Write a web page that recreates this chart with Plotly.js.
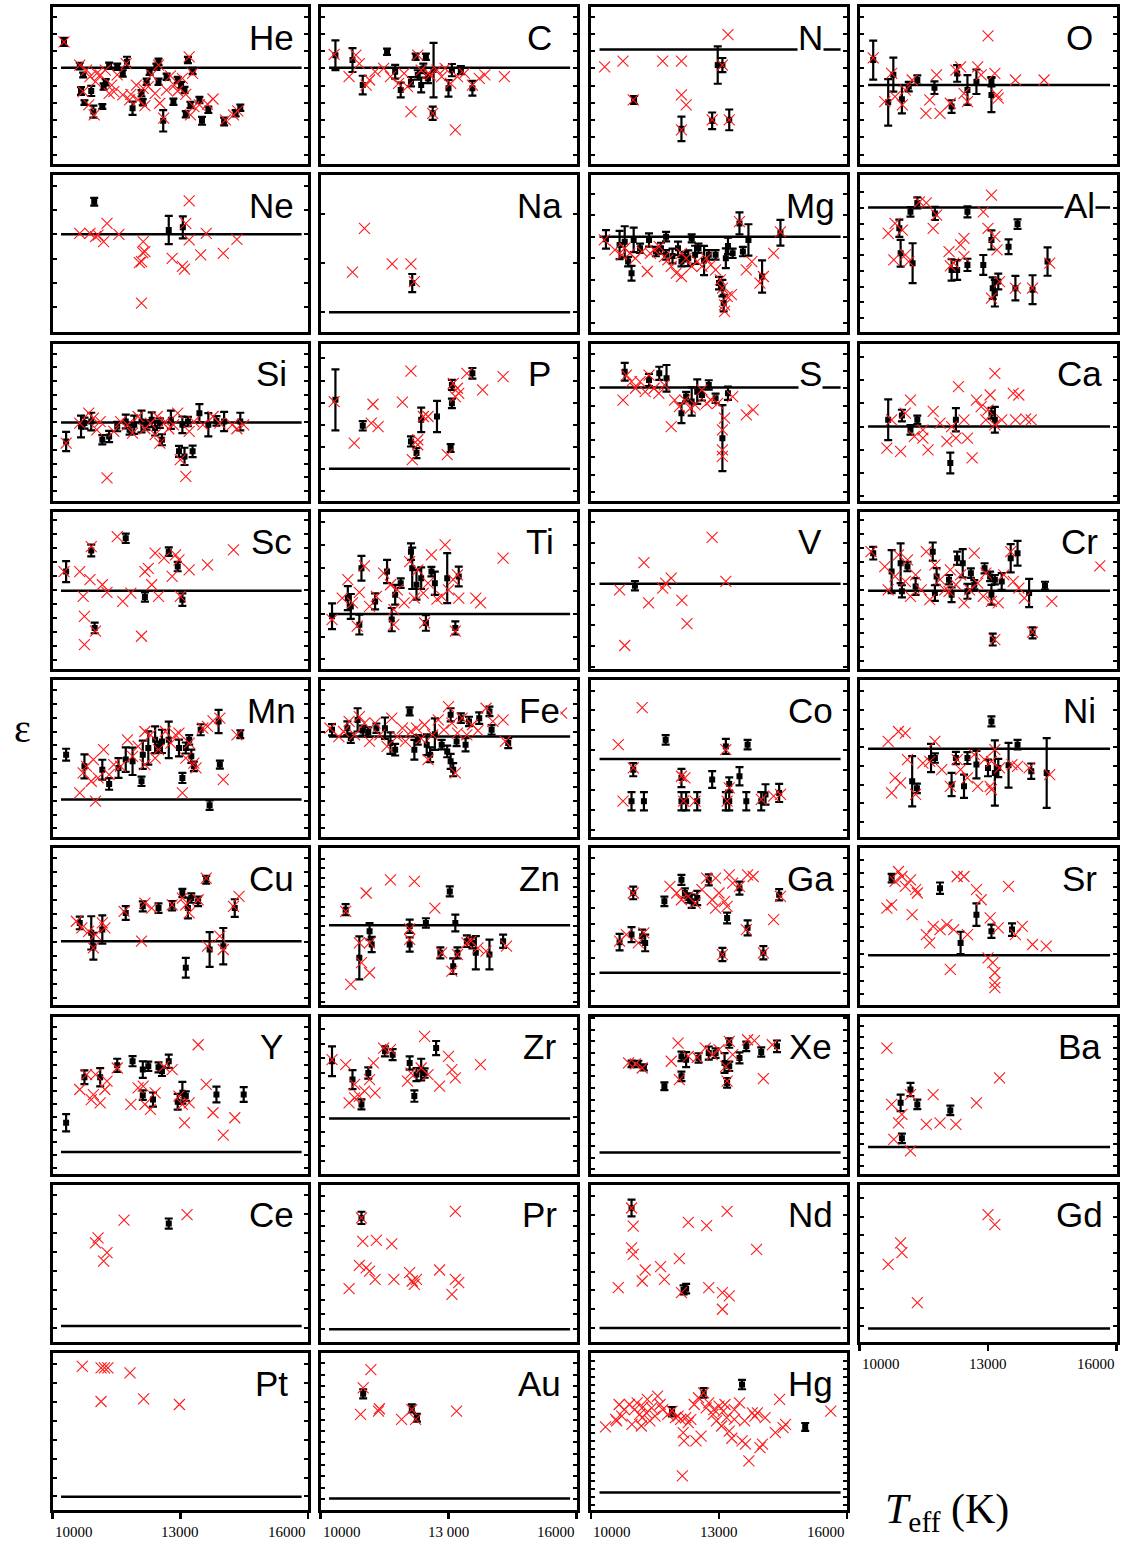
<!DOCTYPE html>
<html><head><meta charset="utf-8">
<script src="https://cdn.plot.ly/plotly-3.0.1.min.js"></script>
<style>html,body{margin:0;padding:0;background:#fff}#chart{width:1123px;height:1541px}</style>
</head><body><div id="chart"></div>
<script>
// ---------------- DATA (Teff in K, abundance in panel units 0-100) ----------------
const elements = ['He','C','N','O','Ne','Na','Mg','Al','Si','P','S','Ca','Sc','Ti','V','Cr','Mn','Fe','Co','Ni','Cu','Zn','Ga','Sr','Y','Zr','Xe','Ba','Ce','Pr','Nd','Gd','Pt','Au','Hg'];
const solar = [61.3,61.3,72.9,50.3,62.4,12.7,60.9,79.5,49.7,20.3,71.9,47.1,49.7,34.9,54.1,49.7,23.9,64,49.7,56.2,40.8,50.9,20.7,31.9,13.7,35.1,13.3,16.9,10.1,8,8.7,8.5,8.5,7.4,11.2];
const solarTeff = [10200, 15850];
const xTickVals = [10000, 13000, 16000];
const xTickText = ['10000', '13000', '16000'];
const xTickTextAu = ['10000', '13 000', '16000'];

const He_red = [[10270,77.8],[10640,63],[10800,59.8],[10880,55.6],[11010,52.4],[11120,56.7],[11240,59.8],[11330,45],[11440,46.1],[11520,56.7],[11650,44],[11810,40.8],[11970,50.3],[12130,48.2],[12250,49.3],[12330,56.7],[12410,45],[12520,38.7],[12610,29.2],[12680,47.1],[12770,56.2],[12860,50.3],[12940,46.5],[13050,54.5],[13130,44.4],[13240,31.3],[13320,36.6],[13450,37.6],[13640,38.1],[13770,41.4],[14060,28.1],[14250,31.3],[14350,33.8],[10720,46.1],[10850,37.6],[10980,31.3],[11840,44.4],[12170,37.2],[13210,68.3],[13290,57.7],[11730,64],[12490,63],[11040,57.7],[11390,50.3],[12010,40.8]];
const He_blk = [[10270,77.8,2.5],[10640,62.4,2.1],[10720,56.7,1.5],[10670,46.5,2.5],[10750,39.1,1.5],[10910,46.5,3.2],[10960,33.4,3.8],[11170,36.6,1.5],[11200,49.3,2],[11250,52,2],[11330,62.6,2],[11520,61.9,2],[11650,57.7,2],[11750,65.1,3.2],[11880,35.5,4.2],[12090,45,2],[12120,39.3,2],[12210,52.4,2],[12280,58.8,2],[12440,61.9,2],[12490,65.1,2],[12490,52.4,2],[12600,27.5,6.8],[12680,55.6,2],[12840,39.7,2],[12940,53.5,2],[13020,50.3,2],[13100,47.1,2],[13130,31.7,2],[13180,66.2,2],[13240,37.6,2],[13290,59.2,2],[13450,40.8,2],[13510,27.5,2.5],[13660,34.5,2],[14030,27.1,2.5],[14300,32.3,2],[14410,35.9,2]];
const C_red = [[10320,69.8],[10670,55.6],[10830,69.3],[10910,64],[11150,53.5],[11280,58.8],[11480,60.9],[11640,55.6],[11830,51.4],[11960,57.7],[12040,49.3],[12120,33.4],[12280,69.3],[12360,59.8],[12570,56.7],[12630,32.3],[12730,59.8],[12840,55.6],[12920,60.9],[13050,51.4],[13160,21.8],[13210,55.6],[13370,57.7],[13560,50.3],[13720,54.5],[13850,56.7],[14310,55.6],[11070,50.3],[12520,57.7]];
const C_blk = [[10350,69.3,9.5],[10750,66.2,7.6],[10990,50.3,5.9],[11560,71.5,2],[11750,58.8,4.4],[11880,47.1,4.7],[12120,52.4,3],[12230,68.3,2],[12280,56.7,3],[12360,50.3,4.7],[12410,60.9,3],[12470,68.3,2],[12520,54.5,3],[12650,59.8,17.4],[12630,32.3,4.2],[13000,48.2,5.3],[13080,59.8,3.9],[13290,59.8,2.5],[13560,48.2,4.7]];
const N_red = [[10320,61.9],[10750,65.5],[10990,40.8],[11680,65.5],[12120,65.5],[12120,44],[12230,37.6],[12120,21.8],[12840,28.1],[13080,63],[13210,82.4],[13240,28.1]];
const N_blk = [[11010,40.8,2.5],[12120,22.4,7.8],[12840,27.5,5.3],[13240,28.1,6.6],[12970,63,11.9],[13080,63,4.5]];
const O_red = [[10320,67.6],[10590,39.7],[10750,57.7],[10830,42.9],[11070,47.1],[11230,53.5],[11550,32.3],[11640,40.8],[11800,56.7],[11880,32.3],[12120,38.7],[12250,59.8],[12360,61.9],[12440,45],[12520,39.7],[12760,61.9],[12840,56.7],[13000,81.6],[13160,57.7],[13210,44],[13240,41.9],[13640,53.5],[14310,53.5],[11000,37.6]];
const O_blk = [[10320,66.2,12.4],[10670,39.3,14.8],[10790,56.9,10.8],[10990,41.2,9],[11150,49.3,3],[11350,53.5,3],[11750,48.6,4],[12150,36.6,4],[12280,57.7,5.3],[12520,47.1,9.5],[12730,52.4,7.8],[13080,44,10.9],[13080,52.4,3]];
const Ne_red = [[10640,63],[10880,63],[11070,61.9],[11200,57.7],[11280,69.3],[11560,62.4],[12130,57.7],[12170,51.4],[12090,45],[12120,50.7],[12090,18.6],[12810,47.1],[13050,41.9],[13100,40.2],[13210,83.7],[13210,58.8],[13480,49.3],[13610,63],[14010,50.3],[14330,59.2],[11010,60.9],[13130,69.3],[12040,44.4]];
const Ne_blk = [[10980,83.1,2.5],[12730,65.1,9],[13060,66.8,7]];
const Na_red = [[10750,38.3],[11030,66.2],[11680,43.5],[12120,43.5],[12200,32.3]];
const Na_blk = [[12150,31.3,5.8]];
const Mg_red = [[10310,58.8],[10560,52.4],[10720,49.3],[10910,50.3],[11040,47.1],[11200,51.4],[11320,38.7],[11480,52.4],[11600,54.5],[11720,48.2],[11880,41.9],[12000,37.6],[12120,35.5],[12230,47.1],[12360,41.9],[12490,45],[12600,41.9],[12700,47.1],[12810,42.9],[12920,39.7],[13030,33.4],[13080,28.1],[13130,13.3],[13190,22.8],[13290,23.9],[13480,70.4],[13640,39.7],[13770,45],[13960,31.3],[14280,50.3],[14040,35.5],[14440,64],[13130,17.5],[12120,50.3],[11800,46.1],[10790,53.5],[11390,50.3]];
const Mg_blk = [[10350,59.2,5.9],[10670,55.6,9],[10790,57.7,9.8],[10870,45,3],[10950,37.6,4.7],[11000,58.8,7.8],[11150,53.5,3],[11360,58.8,4.2],[11520,51.4,3],[11640,53.5,3.5],[11760,60.9,3],[11760,49.3,3],[11910,48.6,4.7],[12040,53.5,4.2],[12120,45,3],[12200,48.2,3],[12280,47.1,5],[12360,59.8,2.5],[12440,49.3,5.8],[12520,53.5,3],[12650,45.7,9.3],[12760,49.3,3],[12920,49.3,3],[13000,31.3,4],[13080,28.1,5.3],[13110,18.6,5.3],[13160,47.1,6.3],[13210,55,5.3],[13320,50.3,3],[13480,69.3,7],[13560,51.4,3],[13690,58.8,10],[14010,35.5,10.3],[14440,63.4,8.2]];
const Al_red = [[10670,63],[10830,69.3],[10800,46.1],[11000,65.1],[11070,49.3],[11150,45],[11400,83.1],[11560,82.4],[11720,66.2],[11800,74.6],[12090,51.4],[12200,44],[12360,55.6],[12440,59.8],[12440,48.2],[12890,76.7],[13000,66.2],[13080,87.3],[13160,60.9],[13210,52.4],[13270,32.3],[13080,21.8],[13640,28.1],[14040,28.1],[14440,44],[12120,42.3]];
const Al_blk = [[10930,66.2,5.5],[10960,50.3,8.5],[11240,44,12.7],[11350,82.4,3.5],[11190,76.7,3],[11760,75.7,4.2],[12150,39.7,6.8],[12280,39.7,6.3],[12520,76.7,3.5],[12520,42.9,3.9],[12890,42.9,6.3],[13080,58.8,6.1],[13110,28.1,6.8],[13160,24.9,8.5],[13240,32.3,5],[13480,54.5,4.7],[13690,68.9,3],[13640,28.1,7.8],[14040,27.1,9.2],[14390,45,9]];
const Si_red = [[10320,36.6],[10640,49.3],[10850,55.6],[10960,52.4],[11120,50.3],[11280,14.4],[11440,44],[11600,50.3],[11760,48.2],[11880,42.9],[12010,53.5],[12170,45.7],[12300,49.3],[12410,41.9],[12520,36.6],[12650,50.3],[12730,45.7],[12840,48.2],[12940,55.6],[13000,26],[13130,15.4],[13210,44],[13320,50.3],[13530,48.2],[13770,53.5],[13930,49.3],[14220,48.2],[14330,45.7],[14490,48.2],[11040,45],[12460,53.5]];
const Si_blk = [[10320,37.6,6.1],[10670,47.1,6.9],[10750,49.3,3.5],[10910,50.3,5.6],[11170,38.7,3],[11330,40.8,3.6],[11520,47.1,3],[11720,50.3,4.4],[11810,45,3],[11920,48.2,5.8],[12090,50.3,6.9],[12200,48.2,3],[12330,51.4,4.7],[12410,46.1,4.7],[12520,49.3,3],[12570,38.7,3.5],[12780,51.4,5.8],[12970,31.3,3.5],[13050,48.2,5.3],[13100,28.1,5.5],[13180,50.3,3],[13290,31.3,3.7],[13450,55.6,5.8],[13660,48.2,7.4],[13850,50.7,3],[14030,50.3,6.1],[14410,50.3,5.6]];
const P_red = [[10320,63],[10790,36.6],[11190,49.3],[11230,61.3],[11350,47.1],[11920,62.6],[12120,82.4],[12150,26],[12280,38.7],[12410,53.5],[12520,53.5],[12970,29.2],[13110,74.6],[13160,66.2],[13240,68.3],[13430,81],[13800,70.4],[14280,78.9],[12280,35.5],[13210,71.5]];
const P_blk = [[10350,64.1,19.4],[10990,47.6,3],[12120,37.6,3.2],[12250,30.2,3.2],[12360,51.4,7.8],[12730,53.5,9.9],[13050,33.4,2.5],[13080,61.9,3],[13080,73.6,3.2],[13560,81,3.4]];
const S_red = [[10750,64],[10830,79.9],[10950,75.7],[11040,71.5],[11150,75.7],[11270,69.3],[11360,79.9],[11480,71.5],[11590,68.3],[11720,73.6],[11880,47.1],[11960,64],[12070,59.8],[12200,64],[12330,58.8],[12440,60.9],[12600,70.4],[12710,61.9],[12810,64],[12970,61.9],[13080,32.3],[13130,52.4],[13320,66.2],[13640,54.5],[13800,57.7],[13080,45],[13080,28.1]];
const S_blk = [[10790,82,5.6],[11360,76.7,3.9],[11600,81,4.2],[11770,77.8,8.5],[12120,55.6,6.3],[12230,66.2,3],[12360,63,9],[12490,69.3,7.8],[12600,67.2,3.5],[12760,73.6,3],[12920,65.1,3],[13080,39.7,21],[13210,68.3,4.2]];
const Ca_red = [[10640,33.4],[10750,51.4],[10960,31.3],[11070,55.6],[11190,64],[11280,40.8],[11480,45],[11600,32.3],[11720,56.7],[11880,49.3],[12040,37.6],[12150,47.1],[12250,39.7],[12310,72.5],[12440,51.4],[12520,39.7],[12630,27.1],[12730,64],[12840,59.8],[12950,51.4],[13050,67.2],[13160,81],[13160,48.2],[13320,51.4],[13590,68.3],[13720,67.2],[13640,51.4],[13880,52],[14010,51.4],[13000,57.7],[11480,39.7]];
const Ca_blk = [[10670,51.4,13],[10990,54.1,3.7],[11190,45,3],[11350,51.4,2.7],[12120,23.9,6.6],[12250,51.4,7.4],[13080,55.6,3.4],[13160,51.4,8.2]];
const Sc_red = [[10270,61.9],[10640,61.9],[10720,46.1],[10750,33.4],[10750,15.4],[10880,56.7],[10910,77.8],[11010,23.9],[11170,53.5],[11280,48.6],[11520,84.1],[11650,42.9],[11840,48.2],[12090,20.7],[12170,61.9],[12250,64],[12330,53.5],[12410,73.6],[12490,46.1],[12620,70.4],[12810,58.8],[12890,72.5],[12970,69.3],[13000,46.1],[13210,63],[13640,66.2],[14250,75.7]];
const Sc_blk = [[10320,61.9,6.7],[10910,75.3,3.7],[10990,26,3.4],[11720,83.1,3],[12170,45.7,3],[12730,74.6,2.7],[12940,65.1,3],[13050,44,4]];
const Ti_red = [[10270,31.3],[10510,45],[10640,56.7],[10750,41.9],[10860,27.1],[10910,48.6],[11030,65.5],[11150,39.7],[11310,46.1],[11480,60.9],[11640,53.5],[11720,37.6],[11800,50.3],[11960,41.9],[12090,68.3],[12200,45],[12280,63],[12410,48.2],[12520,54.5],[12600,72.5],[12730,44.4],[12840,46.1],[12920,78.9],[13000,50.3],[13110,56.7],[13210,59.8],[13240,45],[13640,45],[13750,41.9],[14280,70.4],[13160,23.9],[12440,29.2],[11720,28.1]];
const Ti_blk = [[10270,33.4,8.2],[10640,45,7.6],[10710,39.7,7.9],[10910,28.1,6.3],[10960,64,7.9],[11280,42.9,5.1],[11560,61.9,7.4],[11670,31.3,7.4],[11750,47.1,6.3],[11880,54.5,3],[12120,74.6,5.3],[12150,64,13.2],[12250,53.5,9.5],[12360,57.7,6.9],[12470,29.2,5],[12600,61.9,3],[12680,54.5,7.4],[12970,57.7,15.9],[13160,26,4.2],[13240,58.8,6.3]];
const V_red = [[10670,50.3],[10790,14.8],[11240,67.6],[11350,41.9],[11680,51.4],[11880,57.7],[12130,43.5],[12250,28.8],[12840,83.7],[13160,55.6],[11750,54.5]];
const V_blk = [[11030,52.9,3]];
const Cr_red = [[10270,74.6],[10590,65.1],[10670,50.3],[10830,58.8],[10910,72.5],[11070,55.6],[11190,46.1],[11310,59.8],[11440,50.3],[11560,74.6],[11640,44],[11760,66.2],[11880,56.7],[11990,50.3],[12120,63],[12250,53.5],[12360,59.8],[12440,41.9],[12570,50.3],[12680,73.6],[12760,54.5],[12890,46.1],[12950,60.9],[13080,42.9],[13160,18.6],[13240,41.9],[13370,59.8],[13530,74.6],[13590,55.6],[13720,51.4],[13850,45],[14040,23.3],[14490,42.9],[15610,65.5],[11120,69.3],[12090,49.3]];
const Cr_blk = [[10320,73.6,4],[10750,61.9,13.7],[10960,67.2,12.7],[10990,49.3,3.9],[11120,65.1,3],[11310,52.4,5.3],[11710,74.6,5.8],[11800,58.8,5.3],[11760,48.2,5],[12090,56.7,3],[12150,47.1,4.7],[12280,70.4,4.2],[12410,67.2,9],[12520,49.3,4.7],[12600,60.9,3],[12680,53.5,3],[12920,64,3.2],[13050,58.8,3],[13080,47.1,6.3],[13160,56.7,3],[13110,18.6,3.8],[13320,55.6,5.3],[13530,70.4,9],[13690,73.6,7.9],[13960,48.2,9],[14040,22.8,3.5],[14330,52.9,2.5]];
const Mn_red = [[10640,28.1],[10720,40.8],[10800,45],[10910,35.5],[11010,22.8],[11070,37.6],[11200,55.6],[11330,39.7],[11440,46.1],[11600,45],[11760,61.9],[11880,51.4],[12010,57.7],[12170,67.2],[12300,65.1],[12410,50.3],[12490,55.6],[12650,67.2],[12780,59.8],[12890,65.1],[12970,66.2],[13050,28.1],[13130,50.3],[13210,59.8],[13320,47.1],[13370,44],[13530,69.3],[13640,70.4],[13770,74],[13930,75.7],[14010,36.6],[14330,65.1],[12170,46.1],[10960,49.3]];
const Mn_blk = [[10320,52.4,3.8],[10750,45,7.6],[11170,42.9,6.3],[11330,33.8,3.7],[11550,44,6.3],[11720,49.3,7.8],[11880,48.2,8.7],[12090,35.5,3],[12120,52.4,9],[12250,56.7,10.6],[12410,61.9,8.5],[12490,57.7,3],[12570,60.9,7.4],[12730,61.9,11.6],[12970,56.7,5.3],[13050,37.6,3.2],[13130,56.7,3.5],[13210,61.9,3],[13260,51.4,4.2],[13320,45,3],[13480,68.3,3.5],[13690,20.3,3],[13900,73.6,7.4],[13930,46.1,2.5],[14410,65.5,2.5]];
const Fe_red = [[10220,69.3],[10430,64],[10540,67.2],[10670,73.6],[10800,65.1],[10910,76.7],[11030,72.5],[11150,60.9],[11280,72.5],[11390,65.1],[11560,57.7],[11670,75.7],[11800,64],[11920,69.3],[11990,60.9],[12120,67.2],[12250,69.3],[12360,62.6],[12440,71.5],[12520,49.3],[12630,65.1],[12760,74.6],[12890,68.3],[13000,83.1],[13080,72.5],[13210,66.2],[13320,75.7],[13430,65.1],[13560,71.5],[13690,67.8],[13880,82],[14040,73.6],[14280,74.6],[14330,60.9],[15650,78.9],[13160,40.8]];
const Fe_blk = [[10270,68.3,3.6],[10630,69.3,4.4],[10710,63,3],[10870,74.6,7.4],[10990,67.8,3.2],[11120,66.8,3],[11310,69.3,3],[11510,69.3,6.8],[11640,59.8,6.9],[11750,55.6,3.7],[12090,80,2.5],[12200,55.6,6.3],[12280,61.9,3],[12490,58.8,6.6],[12570,52.4,4.7],[12680,65.5,10],[12840,58.8,3],[12970,54.5,3.7],[13050,77.8,4.2],[13050,48.2,4.8],[13110,42.9,4.2],[13190,60.9,3],[13290,75.7,3],[13400,58.8,4.2],[13480,73.6,3],[13720,75.7,3.7],[13960,80,3],[14010,68.3,3],[14400,59.8,3.2]];
const Co_red = [[10640,58.8],[10750,22.8],[11200,82.4],[10990,44],[12120,38.7],[12170,22.8],[12440,22.8],[13160,55.6],[13190,22.8],[13240,31.3],[13990,23.9],[14280,26],[14440,27.1],[12200,37.6]];
const Co_blk = [[10990,42.9,4.2],[10950,22.8,5.8],[11240,22.8,5.8],[11750,61.9,3],[12120,22.8,5.8],[12120,37.6,5.8],[12230,22.8,5.8],[12490,22.8,5.8],[12840,36.6,5.3],[13160,57.7,4.8],[13160,22.8,5.8],[13240,22.8,5.8],[13240,33.8,4.2],[13480,38.7,5.8],[13670,58.8,3],[13640,22.8,5.8],[13990,22.8,5.8],[14090,27.1,6.5],[14410,28.1,5.8]];
const Ni_red = [[10670,60.9],[10750,28.1],[10910,67.2],[10960,34.5],[11070,66.2],[11120,49.3],[11310,27.1],[11480,47.1],[11640,48.2],[11760,60.9],[11920,42.9],[12120,32.3],[12280,49.3],[12360,42.9],[12520,37.6],[12680,52.4],[12760,32.3],[12920,49.3],[13050,32.3],[13080,48.2],[13160,55.6],[13270,44],[13560,46.1],[13690,45],[13960,44],[14440,39.7],[13080,30.2],[10830,37.6]];
const Ni_blk = [[11230,35.5,16],[11340,31,3],[11670,50.3,9],[11760,50.3,3],[12150,33.4,7.4],[12250,50.3,3.9],[12440,32.3,7.4],[12520,50.3,3.8],[12730,46.1,8.8],[13000,44,5.3],[13080,73.6,3.2],[13160,40.8,20.8],[13240,44,5.8],[13480,45.7,14.3],[13690,58.8,3],[14010,41.9,4.9],[14370,40.8,22.2]];
const Cu_red = [[10560,53.5],[10690,49.3],[10850,47.1],[11010,45],[11170,52.4],[11230,49.3],[11680,59.8],[12090,40.8],[12170,65.1],[12330,61.9],[12810,64],[13050,68.3],[13130,64],[13210,58.8],[13420,67.2],[13610,81],[13640,37.6],[13930,44],[14010,35.5],[14250,63],[14380,69.3],[10960,36.6]];
const Cu_blk = [[10640,52.4,4],[10910,46.1,10.6],[10960,37.6,8.5],[11170,48.2,9],[11720,58.8,4.4],[12120,63,3.2],[12490,61.9,3],[12810,63.4,3],[13050,71.5,2.6],[13130,23.9,6.3],[13180,61.9,6.6],[13260,68.3,3],[13420,66.2,3],[13610,79.9,2.5],[13690,35.5,11.1],[14010,37.6,11.6],[14280,61.9,5.6]];
const Zn_red = [[10590,59.8],[10710,13.3],[10910,39.7],[10960,27.1],[11070,71.5],[11150,20.7],[11640,79.9],[12090,41.9],[12200,78.9],[12680,61.9],[12840,33.4],[13080,21.8],[13210,32.3],[13530,40.8],[13690,36.6],[13880,34.5],[14360,37.6],[12090,48.6],[11150,39.7],[13430,39.7]];
const Zn_blk = [[10590,60.9,3.5],[10910,30.2,13.7],[11150,47.1,5.3],[11200,38.7,4.8],[12090,50.3,4.2],[12090,38.7,4.5],[12470,52.4,3],[12810,33.4,3.5],[13030,72.5,3.2],[13110,24.9,5],[13160,52.4,5.3],[13210,33.4,3.5],[13430,40.8,3.7],[13560,39.7,3.5],[13640,33.4,10.6],[13960,32.3,9.5],[14280,40.8,4.2]];
const Ga_red = [[10670,40.8],[10830,45],[10990,71.5],[11110,39.7],[11240,46.1],[11850,75.7],[12010,71.5],[12120,67.2],[12280,69.3],[12440,65.1],[12600,73.6],[12710,81],[12840,67.2],[12920,61.9],[13000,71.5],[13080,32.3],[13130,66.2],[13190,63],[13240,83.1],[13320,77.8],[13640,48.2],[13670,83.1],[13800,82],[14040,33.4],[14280,54.5],[14440,69.3],[13480,75.7],[12920,81]];
const Ga_blk = [[10670,40.2,5.3],[10950,45,4.8],[10990,71.5,4],[11200,44,4.2],[11270,39.7,5.3],[11720,66.2,3],[12120,79.9,3.2],[12200,71.5,3],[12280,68.3,3],[12360,66.2,4.2],[12490,68.3,4.5],[12760,79.9,3.5],[13080,32.3,4.2],[13190,55.6,3.4],[13480,74.6,4.2],[13670,49.3,4.8],[14040,33.4,4.2],[14410,70.4,3.6]];
const Sr_red = [[10640,61.9],[10750,64],[10830,78.9],[10910,85.2],[10990,82],[11070,75.7],[11190,79.9],[11230,57.7],[11310,73.6],[11350,71.5],[11560,45],[11640,39.7],[11720,50.3],[11880,48.2],[12040,51.4],[12120,22.8],[12200,48.2],[12280,82],[12440,82],[12520,45],[12730,73.6],[12840,67.2],[13050,55.6],[13110,27.1],[13160,20.7],[13160,14.4],[13160,11.2],[13240,49.3],[13480,75.7],[13640,45],[13800,50.3],[14040,38.7],[14360,37.6],[13000,30.2]];
const Sr_blk = [[10750,81,2.7],[11880,74.6,3.6],[12360,39.7,7.1],[12730,57.7,7.2],[13080,47.1,4.2],[13560,48.2,4]];
const Y_red = [[10640,53.5],[10800,63],[10910,47.1],[11010,63],[11120,45],[11230,53.5],[11280,58.8],[11520,67.2],[11840,44],[12010,54.5],[12170,44],[12300,40.8],[12410,51.4],[12620,68.3],[12810,66.2],[12970,49.3],[13100,32.3],[13210,45],[13420,82],[13610,56.7],[13770,38.7],[14010,24.5],[14280,35.5],[10960,50.3],[12130,55.6],[13050,44]];
const Y_blk = [[10320,32.3,5.5],[10750,61.3,4.4],[11120,61.3,5.8],[11520,68.9,4.2],[11880,71.5,3.2],[12120,66.2,5.3],[12120,49.9,3],[12250,68.3,3],[12360,47.1,4.5],[12490,67.6,3.2],[12570,65.1,3],[12730,71.5,4.2],[12940,45.7,5],[13050,51.4,6.9],[13130,49.3,3],[13850,50.3,5],[14490,50.3,4.7]];
const Zr_red = [[10270,72.5],[10590,69.3],[10670,45],[10800,56.7],[10910,49.3],[11030,52.4],[11150,59.8],[11240,70.4],[11280,51.4],[11480,79.9],[11640,78.9],[12040,58.8],[12120,64],[12360,67.2],[12440,87.3],[12520,63],[12790,55.6],[13000,74.6],[13080,66.2],[13160,60.9],[13750,69.3],[10800,48.2]];
const Zr_blk = [[10270,71.5,9.5],[10750,59.8,6],[10960,44,3.2],[11120,64,3.6],[11510,77.8,3.2],[11690,75.7,3.5],[12090,70.4,4.2],[12200,49.3,3.6],[12250,63,4.2],[12360,66.2,6.9],[12440,64,3],[12710,79.9,4.5]];
const Xe_red = [[10880,70.4],[11040,69.8],[11200,67.2],[11880,71.5],[12040,83.1],[12070,59.8],[12280,74.6],[12490,74],[12680,79.9],[12840,75.7],[13000,78.9],[13160,68.3],[13240,84.1],[13320,75.7],[13670,85.2],[13830,84.6],[14040,60.5],[14250,82],[13190,58.8]];
const Xe_blk = [[10950,69.8,2.1],[11110,69.8,2],[11240,67.6,2],[11720,55.6,2.5],[12120,61.9,3],[12120,74.6,3],[12230,72.5,4.8],[12520,73.6,3],[12760,76.7,4.2],[12920,76.7,3],[13130,70.4,6.3],[13190,57.7,3],[13240,83.1,3],[13240,68.3,3],[13480,73.6,3.5],[13640,81,3],[13990,77.4,2.9],[14360,81,3.7]];
const Ba_red = [[10640,79.9],[10750,44],[10800,21.8],[10910,32.3],[11190,14.4],[11190,50.3],[11560,31.3],[11720,50.3],[11880,32.3],[12250,31.3],[12730,45],[13270,60.9],[10990,37.6]];
const Ba_blk = [[10960,45,5.3],[10990,22.4,3],[11190,53.5,4.2],[11350,44,3],[12120,40.2,3]];
const Ce_red = [[11010,63],[11070,66.2],[11200,51.4],[11280,56.7],[11680,77.4],[13160,81]];
const Ce_blk = [[12730,75.3,3.2]];
const Pr_red = [[10670,33.8],[10910,48.6],[10960,78.9],[10990,64],[11070,47.1],[11150,45],[11280,39.7],[11310,64.6],[11670,62.4],[11720,39.7],[12090,44],[12150,38.7],[12200,36.6],[12790,45.7],[13080,30.2],[13160,83.1],[13160,39.7],[13240,37.6],[12250,39.7]];
const Pr_blk = [[10960,78.9,3.9]];
const Nd_red = [[10640,34.5],[10950,85.2],[10990,73.6],[10950,59.8],[10990,55.6],[11200,38.7],[11270,45.7],[11630,47.8],[11720,39.7],[12070,52.9],[12120,31.3],[12280,76.1],[12710,74],[12760,34.5],[13080,31.3],[13080,20.7],[13190,83.1],[13240,29.2],[13880,58.8]];
const Nd_blk = [[10950,85.2,5.3],[12170,33,2.9],[12230,33.8,3]];
const Gd_red = [[10670,49.3],[10960,63],[10990,56.7],[11350,24.9],[13000,81],[13160,74.6]];
const Gd_blk = [];
const Pt_red = [[10700,91.5],[11140,90.5],[11220,90.5],[11300,90.5],[11820,87.3],[11140,69.1],[12140,70.8],[12980,67.2]];
const Pt_blk = [];
const Au_red = [[10940,60.9],[11000,77.8],[11180,89.4],[11360,63],[11900,57.7],[12140,64],[12230,57.7],[13190,63],[11380,64.5]];
const Au_blk = [[11000,74,2.9],[12140,64.7,2.6],[12260,58.8,2.5]];
const Hg_red = [[10340,52.9],[10600,56.7],[10660,67.2],[10720,59.8],[10780,64],[10900,67.2],[10960,54.5],[11020,64],[11080,68.3],[11140,60.9],[11180,53.5],[11220,65.7],[11300,61.9],[11320,70.4],[11380,56.7],[11420,65.1],[11500,59.8],[11560,72.5],[11620,67.2],[11680,64],[11800,60.9],[11900,63],[12040,59.8],[12100,57.7],[12160,49.3],[12180,44],[12220,58.8],[12280,55.6],[12340,57.7],[12420,67.2],[12460,44],[12520,71.5],[12580,47.1],[12640,74.6],[12700,65.1],[12760,68.3],[12860,60.9],[12940,56.7],[13000,66.2],[13060,53.5],[13100,63],[13140,67.2],[13180,58.8],[13240,50.3],[13300,45.7],[13360,64],[13480,68.3],[13540,44],[13600,56.7],[13620,41.9],[13700,31.3],[13780,61.9],[13840,59.8],[13900,61.9],[13960,39.7],[14020,41.9],[14080,58.8],[14320,49.3],[14420,70.4],[14560,54.5],[15620,63],[12140,21.8],[10580,57.7],[11200,58.8],[11980,58.8],[12880,64],[13360,57.7],[14500,52.4]];
const Hg_blk = [[11900,62.6,3],[12640,74.6,3],[13540,79.9,3],[15020,52.9,2.5]];

// ---------------- STYLE ----------------
const redSets = {He:He_red,C:C_red,N:N_red,O:O_red,Ne:Ne_red,Na:Na_red,Mg:Mg_red,Al:Al_red,Si:Si_red,P:P_red,S:S_red,Ca:Ca_red,Sc:Sc_red,Ti:Ti_red,V:V_red,Cr:Cr_red,Mn:Mn_red,Fe:Fe_red,Co:Co_red,Ni:Ni_red,Cu:Cu_red,Zn:Zn_red,Ga:Ga_red,Sr:Sr_red,Y:Y_red,Zr:Zr_red,Xe:Xe_red,Ba:Ba_red,Ce:Ce_red,Pr:Pr_red,Nd:Nd_red,Gd:Gd_red,Pt:Pt_red,Au:Au_red,Hg:Hg_red};
const blkSets = {He:He_blk,C:C_blk,N:N_blk,O:O_blk,Ne:Ne_blk,Na:Na_blk,Mg:Mg_blk,Al:Al_blk,Si:Si_blk,P:P_blk,S:S_blk,Ca:Ca_blk,Sc:Sc_blk,Ti:Ti_blk,V:V_blk,Cr:Cr_blk,Mn:Mn_blk,Fe:Fe_blk,Co:Co_blk,Ni:Ni_blk,Cu:Cu_blk,Zn:Zn_blk,Ga:Ga_blk,Sr:Sr_blk,Y:Y_blk,Zr:Zr_blk,Xe:Xe_blk,Ba:Ba_blk,Ce:Ce_blk,Pr:Pr_blk,Nd:Nd_blk,Gd:Gd_blk,Pt:Pt_blk,Au:Au_blk,Hg:Hg_blk};
// y tick [tick0, dtick] per panel (panel units)
const yTickStyle = [[5.9,11],[5.9,11],[5.9,11],[5.9,11],[0.4,15.5],[12.7,31.3],[5.9,13.7],[8.9,10.06],[5.9,8.77],[5.9,14.1],[5.5,11],[2.7,14.8],[5.5,8.92],[5.9,14.6],[1.2,13.2],[4.9,9],[5.5,8.8],[5.5,8.8],[4.4,12.7],[9.5,11.9],[4.7,8.9],[1.9,6.1],[9.1,10.6],[7,8.56],[3.4,8.2],[8,9.35],[2.7,7.4],[4.9,6.83],[8.7,12.1],[8,9.4],[8.7,12],[10.1,11.6],[8.7,12],[7,7.2],[3,5.1]];

const W = 1123, H = 1541;
const colL = [52.5, 320.5, 591, 859.5], colR = [308, 576.5, 847, 1116.5];
const rowTop0 = 7, rowStep = 168.25, rowH = 157;
const labelled = {31: xTickText, 32: xTickText, 33: xTickTextAu, 34: xTickText};
const anchors = ['left','center','right'];

const traces = [];
const layout = {width: W, height: H, margin: {l:0,r:0,t:0,b:0}, paper_bgcolor:'white', plot_bgcolor:'white', showlegend:false, annotations: []};

elements.forEach((el, i) => {
  const k = i + 1, sfx = k === 1 ? '' : String(k);
  const r = Math.floor(i / 4), c = i % 4;
  const top = rowTop0 + r * rowStep, bot = top + rowH;
  const isLab = labelled[i] !== undefined;
  layout['xaxis' + sfx] = {
    domain: [colL[c] / W, colR[c] / W], range: [10000, 16000], anchor: 'y' + sfx,
    showline: true, mirror: true, linecolor: 'black', linewidth: 3,
    showgrid: false, zeroline: false, showticklabels: false,
    ticks: isLab ? 'outside' : '', tickvals: xTickVals, ticklen: 6, tickwidth: 2.5, tickcolor: 'black', fixedrange: true
  };
  layout['yaxis' + sfx] = {
    domain: [1 - bot / H, 1 - top / H], range: [0, 100], anchor: 'x' + sfx,
    showline: true, mirror: 'ticks', linecolor: 'black', linewidth: 3,
    showgrid: false, zeroline: false, showticklabels: false,
    ticks: 'inside', tick0: yTickStyle[i][0], dtick: yTickStyle[i][1], ticklen: 4, tickwidth: 2, tickcolor: 'black', fixedrange: true
  };
  const xa = 'x' + sfx, ya = 'y' + sfx;
  traces.push({type:'scatter', mode:'lines', x: solarTeff, y: [solar[i], solar[i]], xaxis: xa, yaxis: ya,
    line: {color:'black', width: 2.5}, hoverinfo:'skip'});
  const blk = blkSets[el];
  if (blk.length) {
    traces.push({type:'scatter', mode:'markers', x: blk.map(d => d[0]), y: blk.map(d => d[1]), xaxis: xa, yaxis: ya,
      marker: {symbol:'square', size:6, color:'black'},
      error_y: {type:'data', array: blk.map(d => d[2]), visible:true, color:'black', thickness:2.2, width:4}});
  }
  const red = redSets[el];
  traces.push({type:'scatter', mode:'markers', x: red.map(d => d[0]), y: red.map(d => d[1]), xaxis: xa, yaxis: ya,
    marker: {symbol:'x-thin-open', size:11, color:'#ff1a1a', line:{width:1.1, color:'#ff1a1a'}}});
  const dref = (k === 1 ? 'x' : 'x' + k) + ' domain', yref = (k === 1 ? 'y' : 'y' + k) + ' domain';
  layout.annotations.push({text: el, xref: dref, yref: yref, x: 1, y: 1, xanchor:'center', yanchor:'middle',
    xshift: -37, yshift: -30, showarrow:false, bgcolor:'white', borderpad: 0,
    font: {family:'Liberation Sans, Arial, sans-serif', size: 35, color:'black'}});
  if (isLab) {
    labelled[i].forEach((t, j) => {
      layout.annotations.push({text: t, xref: xa, yref: yref, x: xTickVals[j], y: 0, xanchor: anchors[j], yanchor:'top',
        yshift: -12, showarrow:false, font:{family:'Liberation Serif, Times New Roman, serif', size: 15, color:'black'}});
    });
  }
});

layout.annotations.push({text:'ε', xref:'paper', yref:'paper', x: 22 / W, y: 1 - 728 / H, xanchor:'center', yanchor:'middle',
  showarrow:false, font:{family:'Liberation Serif, Times New Roman, serif', size: 40, color:'black'}});
layout.annotations.push({text:'<i>T</i><sub>eff</sub> (K)', xref:'paper', yref:'paper', x: 947 / W, y: 1 - 1512 / H, xanchor:'center', yanchor:'middle',
  showarrow:false, font:{family:'Liberation Serif, Times New Roman, serif', size: 42, color:'black'}});

Plotly.newPlot('chart', traces, layout, {staticPlot: true, displayModeBar: false});
</script>
</body></html>
